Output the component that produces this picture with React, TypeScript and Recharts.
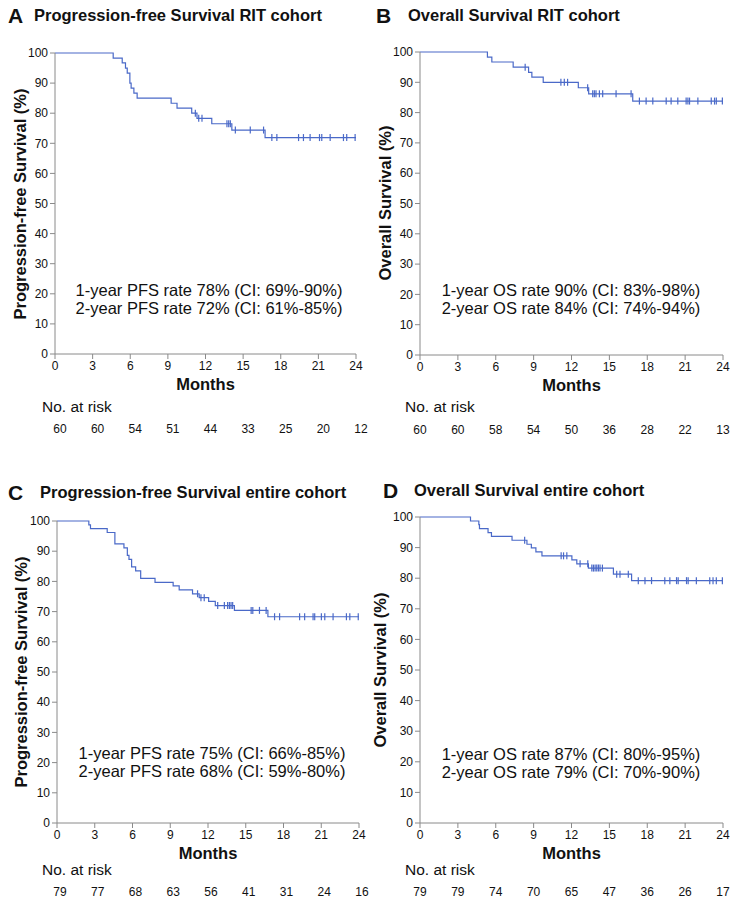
import React from "react";
import {
  ComposedChart,
  Line,
  Scatter,
  XAxis,
  YAxis,
} from "recharts";

const monthTicks = [0, 3, 6, 9, 12, 15, 18, 21, 24];
const survivalTicks = [0, 10, 20, 30, 40, 50, 60, 70, 80, 90, 100];

// A: progression-free survival, RIT cohort
const pfsRitTimes = [4.64, 5.36, 5.62, 5.76, 5.97, 6.07, 6.29, 6.55, 9.26, 9.73, 10.9, 11.32, 12.5, 14.1, 16.75];
const pfsRitSurv = [98.3, 96.7, 95.0, 93.3, 90.0, 88.3, 86.7, 85.0, 83.3, 81.7, 80.0, 78.3, 76.5, 74.4, 71.9];
const pfsRitCensored = [11.19, 11.46, 11.72, 13.71, 13.85, 13.98, 14.38, 15.57, 16.63, 17.29, 17.69, 19.42, 19.81, 20.34, 21.09, 21.27, 21.94, 23.0, 23.26, 23.93];
const pfsRitRisk = [60, 60, 54, 51, 44, 33, 25, 20, 12];

// B: overall survival, RIT cohort
const osRitTimes = [5.34, 5.69, 7.38, 8.6, 8.86, 9.76, 12.54, 13.36, 16.85];
const osRitSurv = [98.3, 96.7, 95.0, 93.3, 91.7, 90.0, 88.2, 86.2, 83.8];
const osRitCensored = [8.33, 11.16, 11.43, 11.69, 13.28, 13.68, 13.81, 13.94, 14.21, 14.47, 15.53, 16.72, 17.38, 17.91, 18.44, 19.5, 19.89, 20.42, 21.08, 21.22, 21.35, 22.01, 23.07, 23.33, 23.47, 23.95];
const osRitRisk = [60, 60, 58, 54, 50, 36, 28, 22, 13];

// C: progression-free survival, entire cohort
const pfsAllTimes = [2.53, 2.66, 3.99, 4.6, 5.32, 5.59, 5.72, 5.93, 6.25, 6.65, 7.79, 9.23, 9.71, 10.77, 11.3, 12.05, 12.58, 14.1, 16.76];
const pfsAllSurv = [98.7, 97.5, 96.2, 92.4, 91.1, 88.6, 87.3, 84.8, 83.5, 81.0, 79.7, 78.5, 77.2, 75.9, 74.6, 73.4, 72.0, 70.4, 68.3];
const pfsAllCensored = [11.17, 11.44, 11.7, 12.77, 13.3, 13.56, 13.7, 13.83, 13.96, 15.43, 15.56, 16.09, 16.62, 17.29, 17.69, 19.28, 19.68, 20.35, 20.48, 21.01, 21.28, 21.94, 23.0, 23.27, 23.94];
const pfsAllRisk = [79, 77, 68, 63, 56, 41, 31, 24, 16];

// D: overall survival, entire cohort
const osAllTimes = [4.0, 4.66, 4.71, 5.39, 5.66, 7.29, 8.47, 8.82, 9.18, 9.66, 12.03, 12.42, 13.34, 15.32, 16.76];
const osAllSurv = [98.7, 97.5, 96.2, 94.9, 93.7, 92.4, 91.1, 89.9, 88.6, 87.3, 86.0, 84.7, 83.3, 81.3, 79.2];
const osAllCensored = [8.29, 11.18, 11.37, 11.63, 12.68, 13.29, 13.61, 13.74, 13.87, 14.0, 14.13, 14.26, 14.45, 15.58, 15.84, 16.5, 17.29, 17.82, 18.34, 19.39, 19.79, 20.32, 20.45, 21.11, 21.24, 21.89, 22.95, 23.21, 23.47, 23.95];
const osAllRisk = [79, 79, 74, 70, 65, 47, 36, 26, 17];

const FONT = '"Liberation Sans", Arial, sans-serif';
const CURVE = "#4a69c8";
const AXIS = "#8a8a8a";

function stepCurve(times: number[], surv: number[]) {
  const pts = [{ t: 0, s: 100 }];
  times.forEach((t, i) => pts.push({ t, s: surv[i] }));
  pts.push({ t: 24, s: surv[surv.length - 1] });
  return pts;
}

function censorMarks(times: number[], surv: number[], censored: number[]) {
  return censored.map((c) => {
    let s = 100;
    times.forEach((t, i) => {
      if (t <= c) s = surv[i];
    });
    return { t: c, s };
  });
}

const CensorTick = (props: any) => {
  const { cx, cy } = props;
  if (cx == null || cy == null) return null;
  return <line x1={cx} x2={cx} y1={cy - 3.5} y2={cy + 3.5} stroke={CURVE} strokeWidth={1.2} />;
};

const abs = (left: number, top: number, extra: React.CSSProperties = {}): React.CSSProperties => ({
  position: "absolute",
  left,
  top,
  fontFamily: FONT,
  color: "#111",
  whiteSpace: "nowrap",
  lineHeight: 1,
  ...extra,
});

type PanelProps = {
  left: number;
  top: number;
  width: number;
  height: number;
  marginTop: number;
  marginRight: number;
  yWidth: number;
  riskHeight: number;
  riskOffset: number;
  riskShift: number;
  times: number[];
  surv: number[];
  censored: number[];
  risk: number[];
  letter: string;
  letterX: number;
  title: string;
  titleX: number;
  titleY: number;
  yLabel: string;
  yLabelX: number;
  yLabelY: number;
  notes: string[];
  notesX: number;
  notesY: number;
  riskLabelX: number;
  riskLabelY: number;
};

function Panel(p: PanelProps) {
  const curve = stepCurve(p.times, p.surv);
  const marks = censorMarks(p.times, p.surv, p.censored);
  return (
    <>
      <div style={{ position: "absolute", left: p.left, top: p.top }}>
        <ComposedChart
          width={p.width}
          height={p.height}
          data={curve}
          margin={{ top: p.marginTop, right: p.marginRight, left: 0, bottom: 0 }}
        >
          <XAxis
            xAxisId="main"
            dataKey="t"
            type="number"
            domain={[0, 24]}
            ticks={monthTicks}
            interval={0}
            height={42}
            stroke={AXIS}
            tickSize={5}
            tickMargin={2}
            tick={{ fill: "#111", fontSize: 12, fontFamily: FONT }}
            label={{
              value: "Months",
              position: "insideBottom",
              offset: 6,
              fill: "#111",
              fontSize: 16.5,
              fontWeight: "bold",
              fontFamily: FONT,
            }}
          />
          <XAxis
            xAxisId="risk"
            dataKey="t"
            type="number"
            domain={[0, 24]}
            ticks={monthTicks}
            interval={0}
            height={p.riskHeight}
            axisLine={false}
            tickLine={false}
            tickSize={0}
            tickMargin={p.riskOffset}
            tickFormatter={(v: number) => String(p.risk[Math.round(v / 3)])}
            tick={{ fill: "#111", fontSize: 12, fontFamily: FONT, dx: p.riskShift }}
          />
          <YAxis
            dataKey="s"
            type="number"
            domain={[0, 100]}
            ticks={survivalTicks}
            interval={0}
            width={p.yWidth}
            stroke={AXIS}
            tickSize={5}
            tickMargin={2}
            tick={{ fill: "#111", fontSize: 12, fontFamily: FONT }}
          />
          <Line
            xAxisId="main"
            dataKey="s"
            type="stepAfter"
            stroke={CURVE}
            strokeWidth={1.2}
            dot={false}
            isAnimationActive={false}
          />
          <Scatter
            xAxisId="main"
            data={marks}
            dataKey="s"
            shape={<CensorTick />}
            isAnimationActive={false}
          />
        </ComposedChart>
      </div>
      <div style={abs(p.letterX, p.titleY, { fontSize: 21, fontWeight: "bold", transform: "translateY(-50%)" })}>
        {p.letter}
      </div>
      <div style={abs(p.titleX, p.titleY, { fontSize: 16.5, fontWeight: "bold", transform: "translateY(-50%)" })}>
        {p.title}
      </div>
      <div
        style={abs(p.yLabelX, p.yLabelY, {
          fontSize: 16.5,
          fontWeight: "bold",
          transform: "translate(-50%, -50%) rotate(-90deg)",
        })}
      >
        {p.yLabel}
      </div>
      {p.notes.map((n, i) => (
        <div
          key={n}
          style={abs(p.notesX, p.notesY + i * 18, { fontSize: 16.5, transform: "translate(-50%, -50%)" })}
        >
          {n}
        </div>
      ))}
      <div style={abs(p.riskLabelX, p.riskLabelY, { fontSize: 15.5, transform: "translateY(-50%)" })}>
        No. at risk
      </div>
    </>
  );
}

export default function App() {
  return (
    <div style={{ position: "absolute", left: 0, top: 0, width: 733, height: 898, background: "#fff" }}>
      <Panel
        left={0}
        top={0}
        width={374}
        height={440}
        marginTop={53}
        marginRight={18}
        yWidth={55}
        riskHeight={44}
        riskOffset={28}
        riskShift={5}
        times={pfsRitTimes}
        surv={pfsRitSurv}
        censored={pfsRitCensored}
        risk={pfsRitRisk}
        letter="A"
        letterX={8}
        title="Progression-free Survival RIT cohort"
        titleX={34}
        titleY={15}
        yLabel="Progression-free Survival (%)"
        yLabelX={20}
        yLabelY={204}
        notes={["1-year PFS rate 78% (CI: 69%-90%)", "2-year PFS rate 72% (CI: 61%-85%)"]}
        notesX={209}
        notesY={290}
        riskLabelX={42}
        riskLabelY={407}
      />
      <Panel
        left={366}
        top={0}
        width={367}
        height={441}
        marginTop={52}
        marginRight={10}
        yWidth={54}
        riskHeight={44}
        riskOffset={28}
        riskShift={0}
        times={osRitTimes}
        surv={osRitSurv}
        censored={osRitCensored}
        risk={osRitRisk}
        letter="B"
        letterX={376}
        title="Overall Survival RIT cohort"
        titleX={408}
        titleY={15}
        yLabel="Overall Survival (%)"
        yLabelX={385}
        yLabelY={203}
        notes={["1-year OS rate 90% (CI: 83%-98%)", "2-year OS rate 84% (CI: 74%-94%)"]}
        notesX={571}
        notesY={290}
        riskLabelX={405}
        riskLabelY={407}
      />
      <Panel
        left={0}
        top={440}
        width={374}
        height={458}
        marginTop={81}
        marginRight={15}
        yWidth={57}
        riskHeight={33}
        riskOffset={22}
        riskShift={3}
        times={pfsAllTimes}
        surv={pfsAllSurv}
        censored={pfsAllCensored}
        risk={pfsAllRisk}
        letter="C"
        letterX={8}
        title="Progression-free Survival entire cohort"
        titleX={40}
        titleY={492}
        yLabel="Progression-free Survival (%)"
        yLabelX={21}
        yLabelY={672}
        notes={["1-year PFS rate 75% (CI: 66%-85%)", "2-year PFS rate 68% (CI: 59%-80%)"]}
        notesX={212}
        notesY={753}
        riskLabelX={42}
        riskLabelY={870}
      />
      <Panel
        left={366}
        top={440}
        width={367}
        height={458}
        marginTop={77}
        marginRight={10}
        yWidth={54}
        riskHeight={33}
        riskOffset={22}
        riskShift={0}
        times={osAllTimes}
        surv={osAllSurv}
        censored={osAllCensored}
        risk={osAllRisk}
        letter="D"
        letterX={383}
        title="Overall Survival entire cohort"
        titleX={414}
        titleY={490}
        yLabel="Overall Survival (%)"
        yLabelX={380}
        yLabelY={670}
        notes={["1-year OS rate 87% (CI: 80%-95%)", "2-year OS rate 79% (CI: 70%-90%)"]}
        notesX={571}
        notesY={754}
        riskLabelX={405}
        riskLabelY={870}
      />
    </div>
  );
}
